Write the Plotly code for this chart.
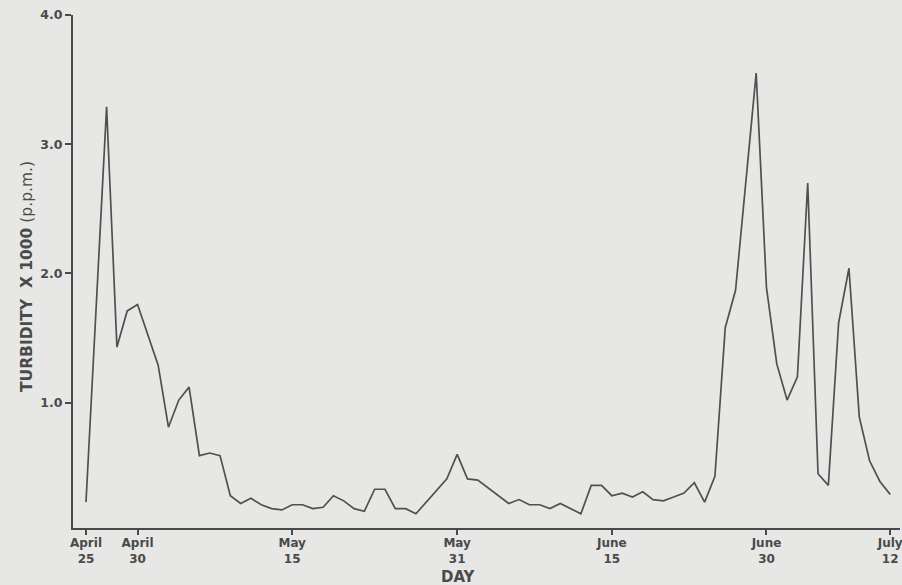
import plotly.graph_objects as go

# Day offsets counted from April 25
days = [0, 2, 3, 4, 5, 7, 8, 9, 10, 11, 12, 13, 14, 15, 16, 17, 18, 19, 20, 21,
        22, 23, 24, 25, 26, 27, 28, 29, 30, 31, 32, 33, 35, 36, 37, 38, 41, 42, 43, 44,
        45, 46, 47, 48, 49, 50, 51, 52, 53, 54, 55, 56, 57, 58, 59, 60, 61, 62, 63, 65,
        66, 67, 68, 69, 70, 71, 72, 73, 74, 75, 76, 77, 78]
turbidity = [0.23, 3.29, 1.43, 1.71, 1.76, 1.29, 0.81, 1.02, 1.12, 0.59, 0.61, 0.59, 0.28, 0.22, 0.26, 0.21, 0.18, 0.17, 0.21, 0.21,
             0.18, 0.19, 0.28, 0.24, 0.18, 0.16, 0.33, 0.33, 0.18, 0.18, 0.14, 0.23, 0.41, 0.60, 0.41, 0.40, 0.22, 0.25, 0.21, 0.21,
             0.18, 0.22, 0.18, 0.14, 0.36, 0.36, 0.28, 0.30, 0.27, 0.31, 0.25, 0.24, 0.27, 0.30, 0.38, 0.23, 0.43, 1.58, 1.87, 3.55,
             1.89, 1.30, 1.02, 1.20, 2.70, 0.45, 0.36, 1.62, 2.04, 0.89, 0.55, 0.39, 0.29]

x_tick_days = [0, 5, 20, 36, 51, 66, 78]
x_tick_labels = ["April<br>25", "April<br>30", "May<br>15", "May<br>31", "June<br>15", "June<br>30", "July<br>12"]
y_tick_vals = [1.0, 2.0, 3.0, 4.0]
y_tick_labels = ["1.0", "2.0", "3.0", "4.0"]

ink = "#4a4a4a"
paper = "#e7e7e5"
font_family = "DejaVu Sans"

fig = go.Figure()
fig.add_trace(go.Scatter(
    x=days, y=turbidity, mode="lines",
    line=dict(color="#505050", width=1.7),
    showlegend=False, hoverinfo="skip",
))

fig.update_layout(
    width=902, height=585,
    paper_bgcolor=paper, plot_bgcolor=paper,
    margin=dict(l=73, r=2, t=15, b=57),
    font=dict(family=font_family, color=ink),
    xaxis=dict(
        range=[-1.26, 78.95], automargin=False, ticklabeloverflow="allow",
        tickmode="array", tickvals=x_tick_days,
        ticktext=["<b>" + t + "</b>" for t in x_tick_labels],
        tickfont=dict(size=12, color=ink, family=font_family),
        ticks="outside", ticklen=5, tickwidth=2, tickcolor=ink,
        ticklabelstandoff=-2,
        showline=True, linecolor=ink, linewidth=2,
        showgrid=False, zeroline=False,
    ),
    yaxis=dict(
        range=[0.03, 4.0], automargin=False, ticklabeloverflow="allow",
        tickmode="array", tickvals=y_tick_vals,
        ticktext=["<b>" + t + "</b>" for t in y_tick_labels],
        tickfont=dict(size=12.5, color=ink, family=font_family),
        ticks="outside", ticklen=6, tickwidth=2, tickcolor=ink,
        showline=True, linecolor=ink, linewidth=2,
        showgrid=False, zeroline=False,
    ),
    annotations=[
        dict(text="<b>DAY</b>", x=458, y=577,
             showarrow=False, font=dict(size=15, color=ink, family=font_family)),
        dict(text="<b>TURBIDITY  X 1000</b> (p.p.m.)", x=27, y=277,
             showarrow=False, textangle=-90,
             font=dict(size=15.5, color=ink, family=font_family)),
    ],
)

# convert pixel-positioned annotations to paper coordinates
plot_l, plot_r, plot_t, plot_b = 73, 900, 15, 528
for a in fig.layout.annotations:
    px, py = a.x, a.y
    a.x = (px - plot_l) / (plot_r - plot_l)
    a.y = (plot_b - py) / (plot_b - plot_t)
    a.xref = "paper"
    a.yref = "paper"
    a.xanchor = "center"
    a.yanchor = "middle"

fig.write_html(
    "out.html",
    config={"displayModeBar": False},
    post_script="document.body.style.margin='0';document.body.style.padding='0';"
                "document.body.style.overflow='hidden';",
)
